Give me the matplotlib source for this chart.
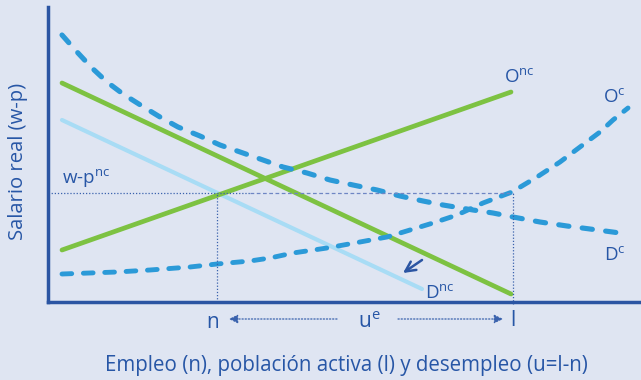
import matplotlib
matplotlib.use("Agg")
from matplotlib import pyplot as plt

plt.rcParams['font.family'] = ['Open Sans', 'DejaVu Sans']
plt.rcParams['mathtext.fontset'] = 'custom'
plt.rcParams['mathtext.rm'] = 'Open Sans'

# curves (x = employment, y = real wage, pixel-like units)
dc_x = [62, 78, 92, 107, 123, 142, 160, 178, 200, 220, 243, 263, 283, 307, 330,
        353, 377, 400, 423, 443, 473, 493, 513, 540, 567, 590, 620]
dc_y = [267, 249, 234, 220, 208, 196, 185, 175, 166, 157, 149, 142, 135, 129, 122,
        117, 112, 106, 101, 97, 92, 89, 85, 80, 76, 73, 69]
oc_x = [62, 117, 150, 190, 217, 250, 270, 293, 327, 360, 387, 410, 433, 457, 483,
        512, 537, 560, 580, 600, 613, 628]
oc_y = [28, 30, 32, 35, 38, 41, 44, 49, 54, 60, 65, 72, 79, 87, 99,
        110, 125, 140, 155, 170, 182, 194]
onc_x = [62, 511]
onc_y = [52, 210]
dnc_green_x = [62, 511]
dnc_green_y = [219, 8]
dnc_x = [62, 422]
dnc_y = [182, 13]

# equilibrium levels
wp_nc = 109
n_emp = 217
l_act = 513

bg = '#dfe5f2'
txt = '#2756a6'
guide = '#3a62ad'

fig = plt.figure(figsize=(6.41, 3.80), dpi=100, facecolor=bg)
ax = fig.add_axes([48/641, 1 - 302/380, 1 - 48/641, 295/380])
ax.set_facecolor(bg)
ax.set_xlim(48, 641)
ax.set_ylim(0, 295)

for s in ['top', 'right']:
    ax.spines[s].set_visible(False)
for s in ['left', 'bottom']:
    ax.spines[s].set_color('#2b55a3')
    ax.spines[s].set_linewidth(2.5)
ax.set_xticks([])
ax.set_yticks([])

ax.plot(dnc_x, dnc_y, color='#a8dcf5', lw=3, solid_capstyle='round')
ax.plot(dnc_green_x, dnc_green_y, color='#7dc242', lw=3.4, solid_capstyle='round')
ax.plot(onc_x, onc_y, color='#7dc242', lw=3.4, solid_capstyle='round')
ax.plot(dc_x, dc_y, color='#2b9ad8', lw=3.7, ls=(0, (2.0, 2.6)), dash_capstyle='round')
ax.plot(oc_x, oc_y, color='#2b9ad8', lw=3.5, ls=(0, (2.0, 2.4)), dash_capstyle='round')

# guide lines
ax.plot([48, 250], [wp_nc, wp_nc], color=guide, lw=0.9, ls=(0, (1, 1.5)))
ax.plot([250, l_act], [wp_nc, wp_nc], color='#6f86c4', lw=0.9, ls=(0, (3, 2)))
ax.plot([n_emp, n_emp], [0, wp_nc], color=guide, lw=0.9, ls=(0, (1, 1.5)))
ax.plot([l_act, l_act], [-2, wp_nc], color=guide, lw=0.9, ls=(0, (1, 1.5)), clip_on=False)

# labels
fs = 13.5
ax.text(62, 113, r'$\mathregular{w\text{-}p^{nc}}$', color=txt, fontsize=fs, va='bottom')
ax.text(504, 216, r'$\mathregular{O^{nc}}$', color=txt, fontsize=fs, va='bottom')
ax.text(603, 196, r'$\mathregular{O^{c}}$', color=txt, fontsize=fs, va='bottom')
ax.text(604, 38, r'$\mathregular{D^{c}}$', color=txt, fontsize=fs, va='bottom')
ax.text(425, 0, r'$\mathregular{D^{nc}}$', color=txt, fontsize=fs, va='bottom')

ax.annotate('', xy=(403, 29), xytext=(422, 42),
            arrowprops=dict(arrowstyle='->', color='#2b55a3', lw=1.8, mutation_scale=18,
                            shrinkA=0, shrinkB=0))

ax.text(n_emp - 4, -20, 'n', color=txt, fontsize=15, ha='center', va='center', clip_on=False)
ax.text(369, -20, r'$\mathregular{u^{e}}$', color=txt, fontsize=15, ha='center', va='center', clip_on=False)
ax.text(l_act, -18, 'l', color=txt, fontsize=15, ha='center', va='center', clip_on=False)
ax.annotate('', xy=(229, -17), xytext=(337, -17), annotation_clip=False,
            arrowprops=dict(arrowstyle='-|>', color=guide, lw=0.9, ls=(0, (1, 1.5)),
                            mutation_scale=13, shrinkA=0, shrinkB=0))
ax.annotate('', xy=(503, -17), xytext=(398, -17), annotation_clip=False,
            arrowprops=dict(arrowstyle='-|>', color=guide, lw=0.9, ls=(0, (1, 1.5)),
                            mutation_scale=13, shrinkA=0, shrinkB=0))

fig.text(346/641, 1 - 365/380, 'Empleo (n), población activa (l) y desempleo (u=l-n)',
         color=txt, fontsize=14.8, ha='center', va='center')
fig.text(18/641, 1 - 161/380, 'Salario real (w-p)', color=txt, fontsize=14.6,
         rotation=90, ha='center', va='center')

fig.savefig('out.png', dpi=100, facecolor=bg)
